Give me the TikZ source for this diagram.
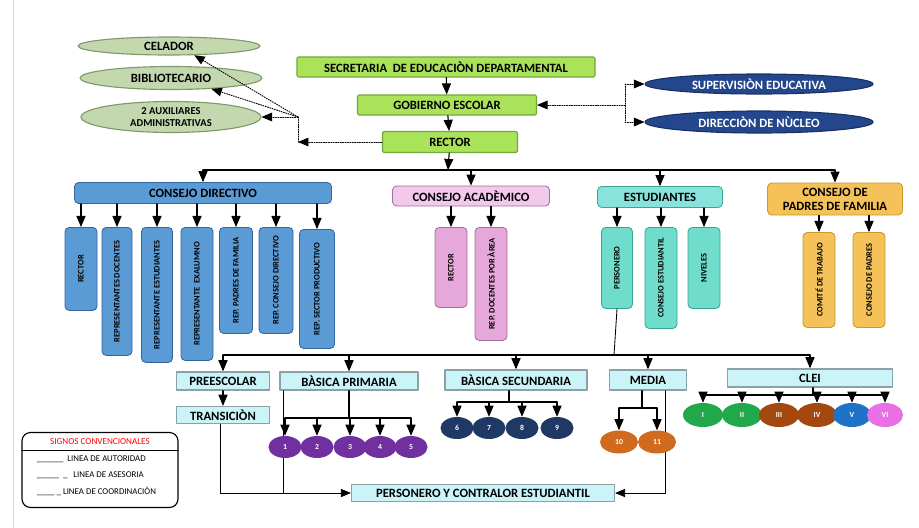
\documentclass[tikz,border=0pt]{standalone}
\usepackage{fontspec}
\setmainfont{Carlito}
\usepackage{tikz}
\usetikzlibrary{arrows,shapes.geometric}

\newcommand{\pxu}{0.025cm}
\definecolor{grnfill}{RGB}{170,226,90}
\definecolor{grnline}{RGB}{112,168,60}
\definecolor{olvfill}{RGB}{196,216,176}
\definecolor{olvline}{RGB}{128,152,106}
\definecolor{navyell}{RGB}{36,70,140}
\definecolor{dirfill}{RGB}{91,155,213}
\definecolor{dirline}{RGB}{52,100,160}
\definecolor{pnkhead}{RGB}{242,200,236}
\definecolor{pnkfill}{RGB}{230,168,218}
\definecolor{pnkline}{RGB}{160,112,152}
\definecolor{teahead}{RGB}{136,227,220}
\definecolor{teafill}{RGB}{112,220,203}
\definecolor{tealine}{RGB}{59,165,150}
\definecolor{golfill}{RGB}{245,194,90}
\definecolor{golline}{RGB}{199,154,46}
\definecolor{cyafill}{RGB}{202,244,248}
\definecolor{cyaline}{RGB}{140,160,166}
\definecolor{purcirc}{RGB}{112,48,160}
\definecolor{navcirc}{RGB}{32,56,100}
\definecolor{orgcirc}{RGB}{208,106,31}
\definecolor{grncirc}{RGB}{32,168,74}
\definecolor{brncirc}{RGB}{165,72,15}
\definecolor{blucirc}{RGB}{30,115,200}
\definecolor{magcirc}{RGB}{232,111,230}

\begin{document}
\begin{tikzpicture}[line cap=round,line join=round,>=triangle 45,x=0.025cm,y=-0.025cm,
  font=\bfseries\fontsize{9}{10}\selectfont,
  auth/.style={line width=0.8pt},
  thin line/.style={line width=0.6pt},
  ases/.style={densely dotted,line width=0.7pt},
  topbox/.style={draw=grnline,fill=grnfill,line width=0.8pt,rounded corners=1pt,inner sep=0pt,minimum height=20*\pxu},
  lellip/.style={ellipse,draw=olvline,fill=olvfill,line width=0.8pt,inner sep=0pt,align=center},
  bellip/.style={ellipse,draw=navyell!70!black,fill=navyell,text=white,line width=0.8pt,inner sep=0pt},
  hbox/.style={rounded corners=3pt,line width=0.6pt,inner sep=0pt,align=center},
  vbox/.style={rotate=90,anchor=east,rounded corners=3pt,line width=0.6pt,inner sep=0pt,font=\bfseries\fontsize{6}{7}\selectfont},
  lbox/.style={draw=cyaline,fill=cyafill,line width=1pt,inner sep=0pt,minimum height=18*\pxu},
  circ/.style={ellipse,inner sep=0pt,text=white,minimum width=33*\pxu,minimum height=22*\pxu,font=\bfseries\fontsize{5.5}{6}\selectfont},
  legtxt/.style={anchor=west,font=\fontsize{6.3}{7}\selectfont}]
\useasboundingbox (0,0) rectangle (919,527);
\draw[gray!30] (13,0) -- (13,527);

% top of the chart
\node[topbox,minimum width=298*\pxu] (sec) at (446,67) {SECRETARIA\ \ DE EDUCACIÒN DEPARTAMENTAL};
\node[topbox,minimum width=179*\pxu] (gob) at (447,105) {GOBIERNO ESCOLAR};
\node[topbox,minimum width=135*\pxu,minimum height=21*\pxu] (rec) at (450,142) {RECTOR};
\draw[auth,->] (sec) -- (gob);
\draw[auth,->] (gob) -- (rec);

% support staff
\node[lellip,minimum width=182*\pxu,minimum height=18*\pxu] (cel) at (169,46) {CELADOR};
\node[lellip,minimum width=182*\pxu,minimum height=23*\pxu] (bib) at (171,78) {BIBLIOTECARIO};
\node[lellip,minimum width=180*\pxu,minimum height=31*\pxu,font=\bfseries\fontsize{7.5}{8.5}\selectfont] (aux) at (171,117) {2 AUXILIARES\\ADMINISTRATIVAS};
\coordinate (ajn) at (298,142);
\coordinate (ajt) at (298,117);
\draw[ases,->] (rec.west) -- (ajn);
\draw[ases] (ajn) -- (ajt);
\draw[ases,->] (ajt) -- (aux.east);
\draw[ases,->] (ajt) -- (bib.-15);
\draw[ases,->] (ajt) -- (cel.-20);

% supervision
\node[bellip,minimum width=228*\pxu,minimum height=20*\pxu] (sup) at (759,84) {SUPERVISIÒN EDUCATIVA};
\node[bellip,minimum width=228*\pxu,minimum height=22*\pxu] (dir) at (759,122) {DIRECCIÒN DE NÙCLEO};
\coordinate (bjn) at (625,105);
\draw[ases] (bjn |- sup) -- (bjn |- dir);
\draw[ases,->] (bjn |- sup) -- (sup.west);
\draw[ases,->] (bjn |- dir) -- (dir.west);
\draw[ases,->] (bjn) -- (gob.east);

% councils
\node[hbox,draw=dirline,fill=dirfill,minimum width=257*\pxu,minimum height=21*\pxu] (cdir) at (203,193) {CONSEJO DIRECTIVO};
\node[hbox,draw=pnkline,fill=pnkhead,minimum width=157*\pxu,minimum height=20*\pxu] (cacad) at (471,196) {CONSEJO ACADÈMICO};
\node[hbox,draw=tealine,fill=teahead,minimum width=125*\pxu,minimum height=21*\pxu] (estud) at (660,197) {ESTUDIANTES};
\node[hbox,draw=golline,fill=golfill,minimum width=135*\pxu,minimum height=32*\pxu] (cpad) at (835,199) {CONSEJO DE\\PADRES DE FAMILIA};
\coordinate (bus1) at (448,170);
\draw[auth,->] (rec) -- (bus1);
\draw[auth] (bus1 -| cdir) -- (bus1 -| cpad);
\foreach \n in {cdir,cacad,estud,cpad}
  \draw[auth,->] (bus1 -| \n) -- (\n.north);

% consejo directivo
\node[vbox,draw=dirline,fill=dirfill,minimum width=83*\pxu,minimum height=32*\pxu] (cd1) at (81,227) {RECTOR};
\node[vbox,draw=dirline,fill=dirfill,minimum width=128*\pxu,minimum height=30*\pxu] (cd2) at (117,227) {REPRESENTANTES DOCENTES};
\node[vbox,draw=dirline,fill=dirfill,minimum width=135*\pxu,minimum height=31*\pxu] (cd3) at (157,227) {REPRESENTANTE ESTUDIANTES};
\node[vbox,draw=dirline,fill=dirfill,minimum width=133*\pxu,minimum height=32*\pxu] (cd4) at (197,227) {REPRESENTANTE\ \ EXALUMNO};
\node[vbox,draw=dirline,fill=dirfill,minimum width=106*\pxu,minimum height=33*\pxu] (cd5) at (236,227) {REP. PADRES DE FAMILIA};
\node[vbox,draw=dirline,fill=dirfill,minimum width=106*\pxu,minimum height=34*\pxu] (cd6) at (276,227) {REP. CONSEJO DIRECTIVO};
\node[vbox,draw=dirline,fill=dirfill,minimum width=119*\pxu,minimum height=35*\pxu] (cd7) at (317,229) {REP. SECTOR PRODUCTIVO};
\foreach \n in {cd1,cd2,cd3,cd4,cd5,cd6,cd7}
  \draw[auth,->] (cdir.south -| \n.east) -- (\n.east);

% consejo academico
\node[vbox,draw=pnkline,fill=pnkfill,minimum width=80*\pxu,minimum height=32*\pxu] (ca1) at (451,227) {RECTOR};
\node[vbox,draw=pnkline,fill=pnkfill,minimum width=113*\pxu,minimum height=32*\pxu] (ca2) at (491,227) {REP. DOCENTES POR ÀREA};
\foreach \n in {ca1,ca2}
  \draw[auth,->] (cacad.south -| \n.east) -- (\n.east);

% estudiantes
\node[vbox,draw=tealine,fill=teafill,minimum width=81*\pxu,minimum height=31*\pxu] (es1) at (617,227) {PERSONERO};
\node[vbox,draw=tealine,fill=teafill,minimum width=101*\pxu,minimum height=32*\pxu] (es2) at (661,227) {CONSEJO ESTUDIANTIL};
\node[vbox,draw=tealine,fill=teafill,minimum width=81*\pxu,minimum height=32*\pxu] (es3) at (704,227) {NIVELES};
\foreach \n in {es1,es2,es3}
  \draw[auth,->] (estud.south -| \n.east) -- (\n.east);

% padres de familia
\node[vbox,draw=golline,fill=golfill,minimum width=95*\pxu,minimum height=32*\pxu] (cp1) at (819,232) {COMITÉ DE TRABAJO};
\node[vbox,draw=golline,fill=golfill,minimum width=95*\pxu,minimum height=32*\pxu] (cp2) at (869,232) {CONSEJO DE PADRES};
\foreach \n in {cp1,cp2}
  \draw[auth,->] (cpad.south -| \n.east) -- (\n.east);

% levels
\node[lbox,minimum width=93*\pxu] (pre) at (223,381) {PREESCOLAR};
\node[lbox,minimum width=138*\pxu] (pri) at (349,381) {BÀSICA PRIMARIA};
\node[lbox,minimum width=93*\pxu,minimum height=17*\pxu] (tra) at (223,415) {TRANSICIÒN};
\node[lbox,minimum width=142*\pxu,minimum height=20*\pxu] (bsec) at (516,380) {BÀSICA SECUNDARIA};
\node[lbox,minimum width=77*\pxu,minimum height=20*\pxu] (med) at (648,380) {MEDIA};
\node[lbox,minimum width=165*\pxu] (clei) at (810,378) {CLEI};
\node[lbox,minimum width=263*\pxu,minimum height=17*\pxu] (pyc) at (483,493) {PERSONERO Y CONTRALOR ESTUDIANTIL};
\coordinate (bus2) at (614,355);
\draw[thin line] (es1.west) -- (bus2);
\draw[auth] (bus2 -| pre) -- (bus2 -| clei);
\foreach \n in {pre,pri,bsec,med,clei}
  \draw[auth,->] (bus2 -| \n) -- (\n.north);
\draw[auth,->] (pre) -- (tra);

% lines down to personero y contralor
\coordinate (bl) at (220,493);
\coordinate (pl) at (283,493);
\coordinate (mr) at (665,493);
\draw[thin line,->] (tra.south -| bl) |- (pyc.west);
\draw[thin line] (pri.south -| pl) -- (pl);
\draw[thin line,->] (med.south -| mr) |- (pyc.east);

% grades
\coordinate (prj) at (349,418);
\coordinate (sj) at (509,402);
\coordinate (mj) at (642,408);
\coordinate (cj) at (813,395);
\draw[auth] (pri.south -| prj) -- (prj);
\draw[auth] (bsec.south -| sj) -- (sj);
\draw[auth] (med.south -| mj) -- (mj);
\draw[auth] (clei.south -| cj) -- (cj);
\node[circ,fill=purcirc] (p1) at (285,447) {1};
\node[circ,fill=purcirc] (p2) at (317,447) {2};
\node[circ,fill=purcirc] (p3) at (350,447) {3};
\node[circ,fill=purcirc] (p4) at (380,447) {4};
\node[circ,fill=purcirc] (p5) at (411,447) {5};
\node[circ,fill=navcirc] (s6) at (457,428) {6};
\node[circ,fill=navcirc] (s7) at (489,428) {7};
\node[circ,fill=navcirc] (s8) at (522,428) {8};
\node[circ,fill=navcirc] (s9) at (557,428) {9};
\node[circ,fill=orgcirc,minimum width=38*\pxu,minimum height=23*\pxu] (m10) at (619,442) {10};
\node[circ,fill=orgcirc,minimum width=38*\pxu,minimum height=23*\pxu] (m11) at (657,442) {11};
\node[circ,fill=grncirc,minimum width=40*\pxu,minimum height=24*\pxu] (c1) at (703,415) {I};
\node[circ,fill=grncirc,minimum width=40*\pxu,minimum height=24*\pxu] (c2) at (742,415) {II};
\node[circ,fill=brncirc,minimum width=40*\pxu,minimum height=24*\pxu] (c3) at (779,415) {III};
\node[circ,fill=brncirc,minimum width=40*\pxu,minimum height=24*\pxu] (c4) at (817,415) {IV};
\node[circ,fill=blucirc,minimum width=38*\pxu,minimum height=24*\pxu] (c5) at (852,415) {V};
\node[circ,fill=magcirc,minimum width=36*\pxu,minimum height=24*\pxu] (c6) at (885,415) {VI};
\draw[auth] (prj -| p1) -- (prj -| p5);
\foreach \n in {p1,p2,p3,p4,p5}
  \draw[auth,->] (prj -| \n) -- (\n.north);
\draw[auth] (sj -| s6) -- (sj -| s9);
\foreach \n in {s6,s7,s8,s9}
  \draw[auth,->] (sj -| \n) -- (\n.north);
\draw[auth] (mj -| m10) -- (mj -| m11);
\foreach \n in {m10,m11}
  \draw[auth,->] (mj -| \n) -- (\n.north);
\draw[auth] (cj -| c1) -- (cj -| c6);
\foreach \n in {c1,c2,c3,c4,c5,c6}
  \draw[auth,->] (cj -| \n) -- (\n.north);

% legend
\node[draw,rounded corners=6pt,line width=0.8pt,minimum width=156*\pxu,minimum height=75*\pxu] (leg) at (100,470) {};
\node[font=\fontsize{6.5}{7}\selectfont,text=red] (legt) at (100,442) {SIGNOS CONVENCIONALES};
\coordinate (lsep) at (100,450);
\draw[line width=0.5pt] (leg.west |- lsep) -- (leg.east |- lsep);
\node[legtxt] (lg1) at (32,459) {\_\_\_\_\_\_\ \ LINEA DE AUTORIDAD};
\node[legtxt] (lg2) at (32,475) {\_\_\_\_\_\ \ \_\ \ \ LINEA DE ASESORIA};
\node[legtxt] (lg3) at (32,491) {\_\_\_\_\ \_\ LINEA DE COORDINACIÒN};
\end{tikzpicture}
\end{document}
